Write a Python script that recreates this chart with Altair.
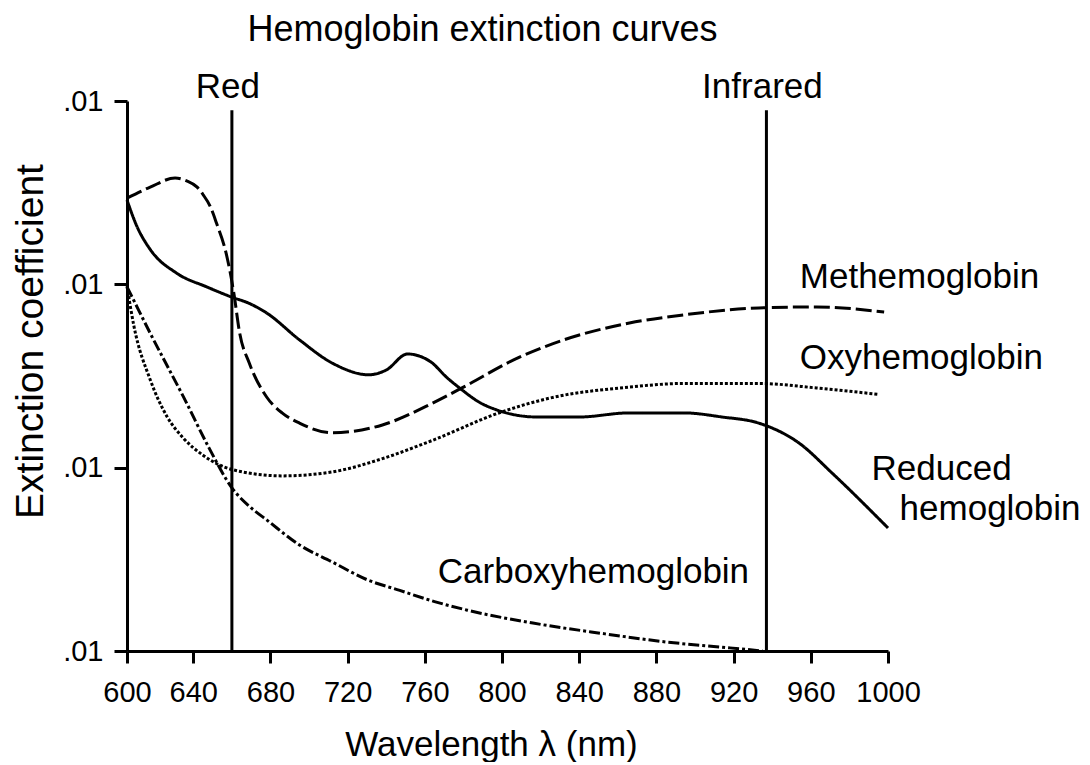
import altair as alt
import pandas as pd

FONT = "Liberation Sans"

# ---- data (wavelength nm, extinction coefficient on a log axis) ----
wl_reduced = [600, 606, 614, 630, 647, 660, 669, 678, 695, 712, 731, 740, 751, 763, 771, 778, 789, 797,
              818, 840, 866, 894, 914, 933, 954, 971, 1000]
ext_reduced = [2.88, 2.07, 1.55, 1.15, 0.968, 0.851, 0.787, 0.698, 0.498, 0.372, 0.321, 0.341, 0.417,
               0.378, 0.313, 0.272, 0.225, 0.207, 0.189, 0.189, 0.199, 0.199, 0.189, 0.175, 0.136,
               0.0935, 0.0469]

wl_met = [600, 614, 629, 636, 642, 645, 649, 652, 657, 661, 664, 669, 678, 686, 695, 712, 738, 764,
          780, 806, 832, 866, 894, 933, 963, 998]
ext_met = [2.95, 3.39, 3.80, 3.67, 3.39, 3.09, 2.63, 2.16, 1.48, 0.897, 0.544, 0.372, 0.243, 0.199,
           0.175, 0.155, 0.171, 0.225, 0.275, 0.387, 0.498, 0.615, 0.681, 0.743, 0.753, 0.706]

wl_oxy = [600, 604, 614, 624, 634, 645, 660, 686, 712, 738, 764, 799, 825, 866, 894, 933, 963, 995]
ext_oxy = [0.977, 0.603, 0.302, 0.191, 0.145, 0.117, 0.0977, 0.0902, 0.0948, 0.112, 0.141, 0.200,
           0.240, 0.275, 0.288, 0.288, 0.272, 0.251]

wl_carb = [600, 607, 614, 624, 634, 648, 660, 670, 678, 695, 712, 730, 747, 765, 782, 816, 851, 885,
           918, 935]
ext_carb = [0.968, 0.724, 0.541, 0.363, 0.244, 0.129, 0.0776, 0.0603, 0.0519, 0.0379, 0.0306,
            0.0245, 0.0214, 0.0186, 0.0167, 0.0142, 0.0125, 0.0112, 0.0104, 0.0100]

series_names = ["Reduced hemoglobin", "Methemoglobin", "Oxyhemoglobin", "Carboxyhemoglobin"]
series_dash = [[1, 0], [16, 5], [3, 2], [11, 3, 3, 3]]

x_ticks = [600, 640, 680, 720, 760, 800, 840, 880, 920, 960, 1000]
y_ticks = [0.01, 0.1, 1, 10]

band_names = ["Red", "Infrared"]
band_wl = [660, 937]
band_top = [8.9, 8.9]

label_texts = ["Methemoglobin", "Oxyhemoglobin", "Reduced", "hemoglobin", "Carboxyhemoglobin"]
label_wl = [954.3, 954.3, 991.5, 1006, 766.7]
label_ext = [0.955, 0.345, 0.0857, 0.0519, 0.0235]

# ---- tables ----
rows = []
for name, wl, ext in [
    ("Reduced hemoglobin", wl_reduced, ext_reduced),
    ("Methemoglobin", wl_met, ext_met),
    ("Oxyhemoglobin", wl_oxy, ext_oxy),
    ("Carboxyhemoglobin", wl_carb, ext_carb),
]:
    for w, e in zip(wl, ext):
        rows.append({"series": name, "wl": w, "ext": e})
curves = pd.DataFrame(rows)

bands = pd.DataFrame({"name": band_names, "wl": band_wl, "lo": [0.01] * 2, "hi": band_top, "top": [10] * 2})
labels = pd.DataFrame({"text": label_texts, "wl": label_wl, "ext": label_ext})

# the reference axis draws 600-640 a little narrower than the other 40 nm steps
x_scale = alt.Scale(domain=[600, 640, 1000], range=[0, 66.3, 761], nice=False, zero=False)
y_scale = alt.Scale(type="log", domain=[0.01, 10], nice=False)

x_axis = alt.Axis(values=x_ticks, format="d", title="Wavelength λ (nm)", grid=False,
                  domainColor="black", domainWidth=3, tickColor="black", tickWidth=3, tickSize=12,
                  labelFont=FONT, labelFontSize=29, labelColor="black", labelPadding=15,
                  labelFlush=False, labelOverlap=False,
                  titleFont=FONT, titleFontSize=35, titleFontWeight="normal", titleColor="black",
                  titleX=364, titleY=104, titleAnchor="start", titleAlign="center",
                  titleBaseline="alphabetic")
y_axis = alt.Axis(values=y_ticks, labelExpr="'.01'", title="Extinction coefficient", grid=False,
                  domainColor="black", domainWidth=3, tickColor="black", tickWidth=3, tickSize=13,
                  labelFont=FONT, labelFontSize=29, labelColor="black", labelPadding=11,
                  labelFlush=False, labelOverlap=False,
                  titleFont=FONT, titleFontSize=39, titleFontWeight="normal", titleColor="black",
                  titleX=-85, titleY=240, titleAnchor="start", titleAlign="center",
                  titleBaseline="alphabetic", titleAngle=270)

lines = alt.Chart(curves).mark_line(color="black", strokeWidth=3, interpolate="monotone").encode(
    x=alt.X("wl:Q", scale=x_scale, axis=x_axis),
    y=alt.Y("ext:Q", scale=y_scale, axis=y_axis),
    strokeDash=alt.StrokeDash("series:N", scale=alt.Scale(domain=series_names, range=series_dash),
                              legend=None),
    detail="series:N",
)

rules = alt.Chart(bands).mark_rule(color="black", strokeWidth=3).encode(
    x=alt.X("wl:Q", scale=x_scale),
    y=alt.Y("lo:Q", scale=y_scale),
    y2="hi:Q",
)

band_text = alt.Chart(bands).mark_text(font=FONT, fontSize=35, color="black", align="center",
                                       baseline="alphabetic", dy=-3, dx=-4).encode(
    x=alt.X("wl:Q", scale=x_scale),
    y=alt.Y("top:Q", scale=y_scale),
    text="name:N",
)

curve_text = alt.Chart(labels).mark_text(font=FONT, fontSize=35, color="black", align="left",
                                         baseline="alphabetic").encode(
    x=alt.X("wl:Q", scale=x_scale),
    y=alt.Y("ext:Q", scale=y_scale),
    text="text:N",
)

chart = alt.layer(lines, rules, band_text, curve_text).properties(
    width=761,
    height=550,
    title=alt.TitleParams("Hemoglobin extinction curves", font=FONT, fontSize=36, fontWeight="normal",
                          color="black", anchor="middle", dx=-25, dy=-17),
    autosize=alt.AutoSizeParams(type="none"),
    padding={"left": 119, "top": 93, "right": 194, "bottom": 111},
).configure_view(stroke=None)

chart.save("out.html", embed_options={"renderer": "svg", "actions": False})
